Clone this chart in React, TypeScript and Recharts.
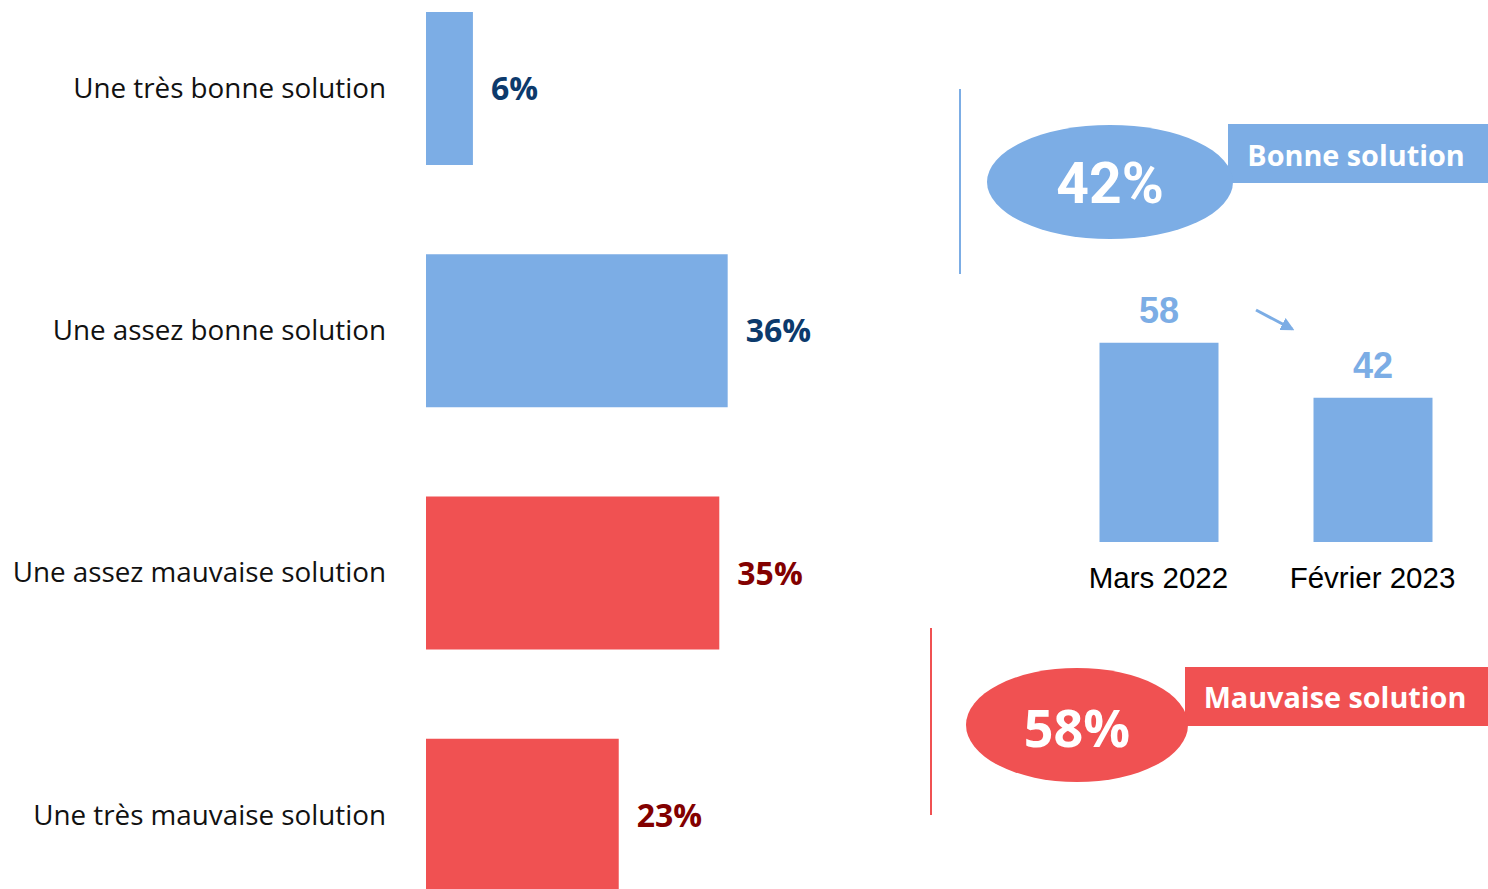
import { BarChart, Bar, XAxis, YAxis, Cell, LabelList } from 'recharts';

// répartition des réponses
const categories = [
    'Une très bonne solution',
    'Une assez bonne solution',
    'Une assez mauvaise solution',
    'Une très mauvaise solution',
];
const shares = [5.6, 36, 35, 23];
const tones = ['good', 'good', 'bad', 'bad'];

// évolution "bonne solution"
const periods = ['Mars 2022', 'Février 2023'];
const goodTrend = [58, 42];

const BLUE = '#7cade5';
const RED = '#f05152';
const DARK_BLUE = '#0c3a6c';
const DARK_RED = '#820000';

const answers = categories.map((name, i) => ({ name, value: shares[i], tone: tones[i] }));
const trend = periods.map((period, i) => ({ period, value: goodTrend[i] }));

const goodTotal = Math.round(shares.filter((_, i) => tones[i] === 'good').reduce((a, b) => a + b, 0));
const badTotal = Math.round(shares.filter((_, i) => tones[i] === 'bad').reduce((a, b) => a + b, 0));

const ShareLabel = (props: any) => {
    const { x, y, width, height, value, index } = props;
    const good = tones[index] === 'good';
    return (
        <text
            x={x + width + 18}
            y={y + height / 2}
            dy="0.36em"
            fill={good ? DARK_BLUE : DARK_RED}
            fontFamily="Open Sans"
            fontWeight={700}
            fontSize={32}
        >
            {Math.round(value)}%
        </text>
    );
};

export default function App() {
    return (
        <div style={{ position: 'absolute', left: 0, top: 0, width: 1488, height: 889, overflow: 'hidden', background: '#fff' }}>
            <div style={{ position: 'absolute', left: 0, top: -33 }}>
                <BarChart
                    width={900}
                    height={969}
                    data={answers}
                    layout="vertical"
                    margin={{ top: 0, right: 55, left: 0, bottom: 0 }}
                >
                    <XAxis type="number" domain={[0, 50]} hide />
                    <YAxis
                        type="category"
                        dataKey="name"
                        width={426}
                        axisLine={false}
                        tickLine={false}
                        tickSize={0}
                        tickMargin={40}
                        tick={{ fill: '#111', fontFamily: 'Open Sans', fontSize: 27.8 }}
                    />
                    <Bar dataKey="value" barSize={153} isAnimationActive={false}>
                        {answers.map((d) => (
                            <Cell key={d.name} fill={d.tone === 'good' ? BLUE : RED} />
                        ))}
                        <LabelList dataKey="value" content={ShareLabel} />
                    </Bar>
                </BarChart>
            </div>

            <div style={{ position: 'absolute', left: 1040, top: 260 }}>
                <BarChart
                    width={450}
                    height={340}
                    data={trend}
                    margin={{ top: 76, right: 10.5, left: 11.5, bottom: 8 }}
                >
                    <XAxis
                        dataKey="period"
                        height={50}
                        axisLine={false}
                        tickLine={false}
                        tickSize={0}
                        tickMargin={25}
                        tick={{ fill: '#000', fontFamily: 'Liberation Sans', fontSize: 29.5 }}
                    />
                    <YAxis domain={[0, 60]} hide />
                    <Bar dataKey="value" fill={BLUE} barSize={119} isAnimationActive={false}>
                        <LabelList
                            dataKey="value"
                            position="top"
                            offset={20}
                            fill={BLUE}
                            fontFamily="Liberation Sans"
                            fontWeight={700}
                            fontSize={36}
                        />
                    </Bar>
                </BarChart>
            </div>

            <svg width={1488} height={889} style={{ position: 'absolute', left: 0, top: 0, pointerEvents: 'none' }}>
                <defs>
                    <marker id="head" viewBox="0 0 10 10" refX="8" refY="5" markerWidth="4.5" markerHeight="4.5" orient="auto">
                        <path d="M0,0 L10,5 L0,10 z" fill={BLUE} />
                    </marker>
                </defs>
                <line x1={1256} y1={310} x2={1292} y2={329} stroke={BLUE} strokeWidth={3} markerEnd="url(#head)" />

                <line x1={960} y1={89} x2={960} y2={274} stroke={BLUE} strokeWidth={2} />
                <rect x={1228} y={124} width={260} height={59} fill={BLUE} />
                <ellipse cx={1110} cy={182} rx={123} ry={57} fill={BLUE} />
                <text x={1110} y={203} textAnchor="middle" fill="#fff" fontFamily="Roboto" fontWeight={700} fontSize={57}>
                    {goodTotal}%
                </text>
                <text x={1356} y={166} textAnchor="middle" fill="#fff" fontFamily="Open Sans" fontWeight={700} fontSize={28.8}>
                    Bonne solution
                </text>

                <line x1={931} y1={628} x2={931} y2={815} stroke={RED} strokeWidth={2} />
                <rect x={1185} y={667} width={303} height={59} fill={RED} />
                <ellipse cx={1077} cy={725} rx={111} ry={57} fill={RED} />
                <text x={1077} y={747} textAnchor="middle" fill="#fff" fontFamily="Open Sans" fontWeight={700} fontSize={52}>
                    {badTotal}%
                </text>
                <text x={1335} y={708} textAnchor="middle" fill="#fff" fontFamily="Open Sans" fontWeight={700} fontSize={28.8}>
                    Mauvaise solution
                </text>
            </svg>
        </div>
    );
}
